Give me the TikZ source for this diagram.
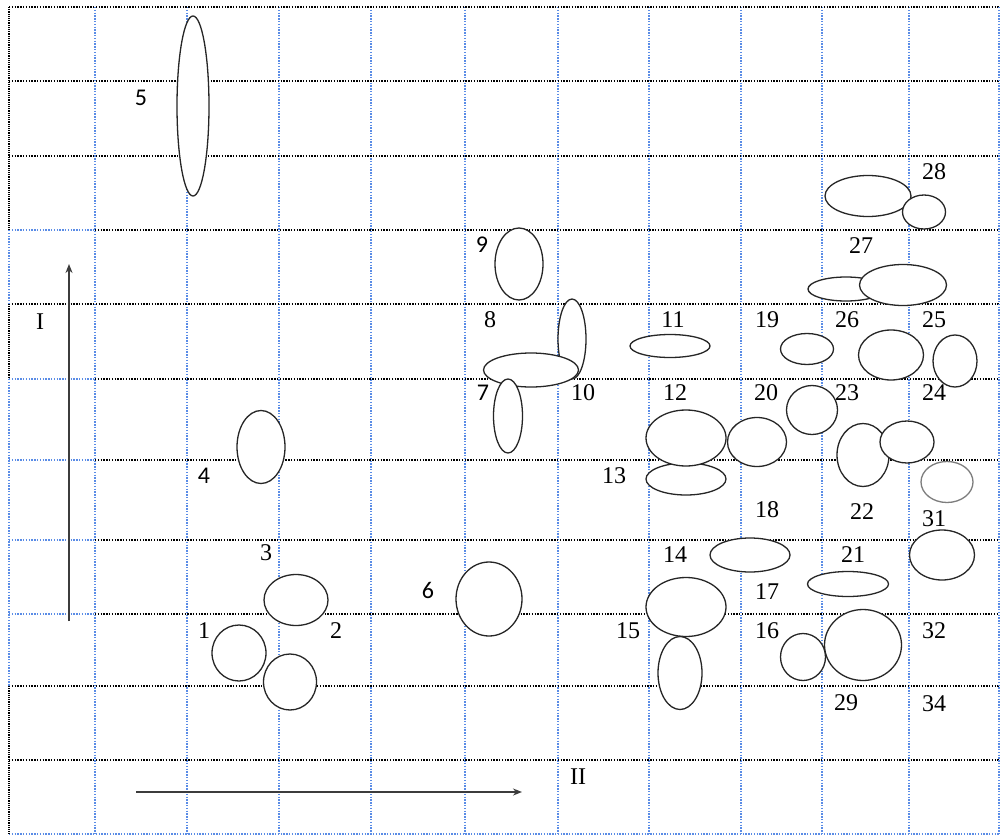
\documentclass[tikz,border=0pt]{standalone}
\usepackage{fontspec}
\setmainfont{Liberation Serif}
\newfontfamily\calib{Carlito}
\usetikzlibrary{shapes.geometric,arrows.meta}
\definecolor{gridblue}{RGB}{90,140,230}
\definecolor{axisgray}{RGB}{60,60,60}
\definecolor{rimgray}{RGB}{125,125,125}
\tikzset{
  gb/.style={black, line width=1.2pt, dash pattern=on 1.4pt off 1.4pt},
  gl/.style={gridblue, line width=1.2pt, dash pattern=on 1.4pt off 1.4pt},
  gborder/.style={black, line width=2pt, dash pattern=on 1.2pt off 1pt},
  ell/.style 2 args={shape=ellipse, draw=black!85, fill=white, line width=1.3pt, inner sep=0pt, minimum width=#1pt, minimum height=#2pt},
  lab/.style={inner sep=0pt, font=\fontsize{24}{24}\selectfont},
  labc/.style={inner sep=0pt, font=\calib\fontsize{24}{24}\selectfont},
  axis/.style={axisgray, line width=2pt, -{Stealth[length=9pt,width=7pt,fill=black]}}
}
\begin{document}
\begin{tikzpicture}[x={(1pt,0pt)}, y={(0pt,-1pt)}]
\useasboundingbox[fill=white] (0,0) rectangle (1000,837);
% grid: vertical blue lines
\foreach \x in {95,187,279,371,465,558,649,741,822,909} {\draw[gl] (\x,7) -- (\x,834);}
% horizontal black lines
\foreach \y in {81,156,304,686,760} {\draw[gb] (9,\y) -- (999,\y);}
\foreach \y in {230,379,460,540,614} {\draw[gl] (9,\y) -- (95,\y); \draw[gb] (95,\y) -- (999,\y);}
% border
\draw[gb, line width=1.5pt] (9,7) -- (999,7);
\draw[gl] (999,7) -- (999,834);
\draw[gl] (9,834) -- (999,834);
\draw[gborder] (9,7) -- (9,230);
\draw[gl, line width=1.6pt] (9,230) -- (9,304);
\draw[gborder] (9,304) -- (9,379);
\draw[gl, line width=1.6pt] (9,379) -- (9,686);
\draw[gborder] (9,686) -- (9,834);

% axes
\coordinate (ia) at (69,621);
\coordinate (ib) at (69,264);
\draw[axis] (ia) -- (ib);
\coordinate (iia) at (136,792);
\coordinate (iib) at (522,792);
\draw[axis] (iia) -- (iib);
\node[lab] (lI) at (40,322) {I};
\node[lab] (lII) at (578,777) {II};

% ellipses
\node[ell={32}{180}] (e5) at (193,106) {};
\node[ell={48}{73}] (e4) at (261,447) {};
\node[ell={64}{51}] (e3) at (296,600) {};
\node[ell={54}{56}] (e1) at (239,653) {};
\node[ell={53}{56}] (e2) at (290,682) {};
\node[ell={66}{74}] (e6) at (489,599) {};
\node[ell={48}{72}] (e9) at (519,264) {};
\node[ell={28}{80}] (e10) at (572,339) {};
\node[ell={95}{34}] (e8) at (531,370) {};
\node[ell={29}{74}] (e7) at (508,416) {};
\node[ell={80}{23}] (e11) at (670,346) {};
\node[ell={80}{32}] (e13) at (686,479) {};
\node[ell={80}{56}] (e12) at (686,438) {};
\node[ell={59}{49}] (e20) at (757,442) {};
\node[ell={53}{31}] (e19) at (807,349) {};
\node[ell={51}{49}] (e23) at (812,410) {};
\node[ell={65}{50}] (e26) at (891,355) {};
\node[ell={44}{52}] (e25) at (955,361) {};
\node[ell={52}{63}] (e22) at (863,455) {};
\node[ell={54}{42}] (e24) at (907,442) {};
\node[ell={52}{41}, draw=rimgray] (e31) at (947,482) {};
\node[ell={65}{50}] (e32) at (942,555) {};
\node[ell={80}{34}] (e17) at (750,555) {};
\node[ell={81}{25}] (e21) at (848,584) {};
\node[ell={80}{59}] (e14) at (686,607) {};
\node[ell={44}{73}] (e15) at (680,673) {};
\node[ell={45}{47}] (e16) at (803,657) {};
\node[ell={77}{71}] (e29) at (863,645) {};
\node[ell={86}{41}] (e27a) at (868,196) {};
\node[ell={43}{34}] (e28) at (924,212) {};
\node[ell={76}{24}] (e27b) at (846,289) {};
\node[ell={87}{41}] (e27c) at (903,285) {};

% labels
\node[labc] (l5) at (141,98) {5};
\node[labc] (l4) at (204,476) {4};
\node[lab] (l3) at (266,553) {3};
\node[lab] (l1) at (204,631) {1};
\node[lab] (l2) at (336,631) {2};
\node[labc] (l6) at (428,590) {6};
\node[labc] (l9) at (482,245) {9};
\node[lab] (l8) at (490,320) {8};
\node[labc] (l7) at (483,393) {7};
\node[lab] (l10) at (583,393) {10};
\node[lab] (l11) at (673,320) {11};
\node[lab] (l12) at (675,393) {12};
\node[lab] (l13) at (614,476) {13};
\node[lab] (l14) at (675,555) {14};
\node[lab] (l15) at (628,631) {15};
\node[lab] (l19) at (767,320) {19};
\node[lab] (l20) at (766,393) {20};
\node[lab] (l18) at (767,510) {18};
\node[lab] (l17) at (767,592) {17};
\node[lab] (l16) at (767,631) {16};
\node[lab] (l26) at (847,320) {26};
\node[lab] (l23) at (847,393) {23};
\node[lab] (l22) at (862,512) {22};
\node[lab] (l21) at (853,555) {21};
\node[lab] (l29) at (846,703) {29};
\node[lab] (l25) at (934,320) {25};
\node[lab] (l24) at (934,393) {24};
\node[lab] (l31) at (934,519) {31};
\node[lab] (l32) at (934,631) {32};
\node[lab] (l34) at (934,704) {34};
\node[lab] (l28) at (934,172) {28};
\node[lab] (l27) at (861,246) {27};
\end{tikzpicture}
\end{document}
